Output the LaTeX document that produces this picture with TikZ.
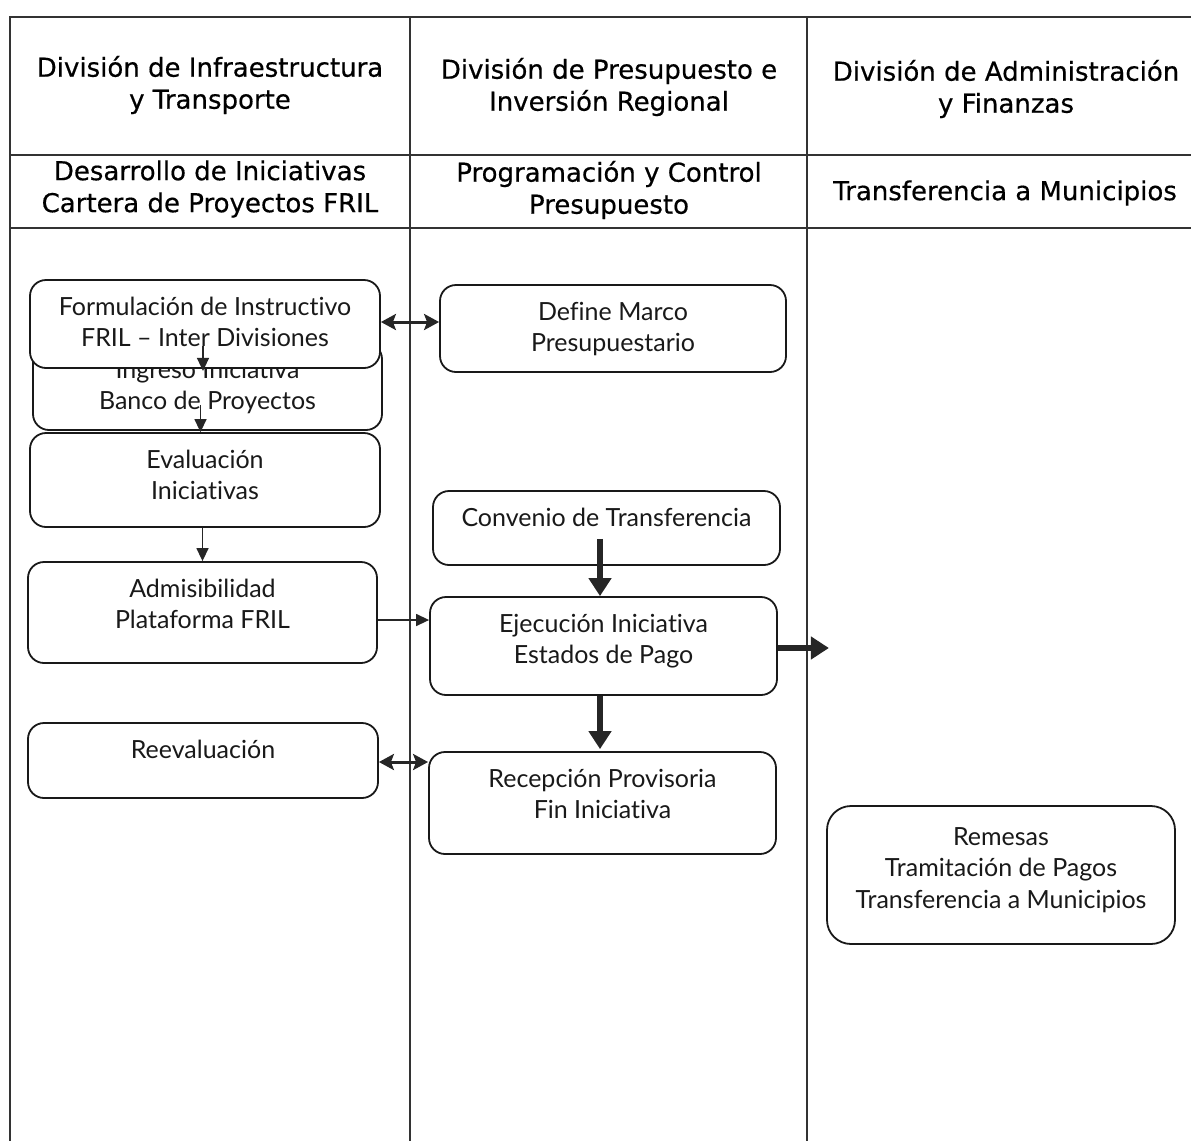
\documentclass[tikz,border=0pt]{standalone}
\usepackage{fontspec}
\setmainfont{Lato}[Ligatures=NoCommon]
\newfontfamily\hdrfont{DejaVu Sans}[FakeBold=0.5]
\usetikzlibrary{arrows.meta,calc}
\newcommand\firststrut{\rule{0pt}{22pt}}
\begin{document}
\begin{tikzpicture}[x=1pt,y=-1pt,
  grid/.style={draw=black!80, line width=1.3pt},
  hdr/.style={font=\hdrfont\fontsize{26}{32}\selectfont, align=center, inner sep=0pt, text=black},
  box/.style={draw=black!90, line width=1.8pt, rounded corners=16pt, fill=white, inner sep=0pt},
  btxt/.style={anchor=north, yshift=-14pt, inner sep=0pt, align=center, font=\fontsize{25}{31.5}\selectfont, text=black!90},
  thinarr/.style={draw=black!85, line width=1.4pt, -{Triangle[length=13pt,width=12pt]}},
  dblarr/.style={draw=black!85, line width=3pt, {Stealth[length=15pt,width=16pt,inset=3pt]}-{Stealth[length=15pt,width=16pt,inset=3pt]}},
  fatarr/.style={draw=black!85, line width=6pt, -{Triangle[length=18pt,width=22pt]}},
]
\useasboundingbox (0,0) rectangle (1191,1141);

% table grid
\draw[grid] (1191,17) -- (10,17) -- (10,1141);
\draw[grid] (10,155) -- (1191,155);
\draw[grid] (10,228) -- (1191,228);
\draw[grid] (410,17) -- (410,1141);
\draw[grid] (807,17) -- (807,1141);

% headers
\node[hdr] (h1) at (210,85) {División de Infraestructura\\y Transporte};
\node[hdr] (h2) at (609,87) {División de Presupuesto e\\Inversión Regional};
\node[hdr] (h3) at (1006,89) {División de Administración\\y Finanzas};
\node[hdr] (s1) at (210,189) {Desarrollo de Iniciativas\\Cartera de Proyectos FRIL};
\node[hdr] (s2) at (609,190) {Programación y Control\\Presupuesto};
\node[hdr] (s3) at (1005,193) {Transferencia a Municipios};

% boxes column 1
\node[box, minimum width=349pt, minimum height=87pt,
  label={[btxt]north:{\firststrut Ingreso Iniciativa\\Banco de Proyectos}}] (ingreso) at (207.5,386.5) {};
\node[box, minimum width=350pt, minimum height=88pt,
  label={[btxt]north:{\firststrut Formulación de Instructivo\\FRIL -- Inter Divisiones}}] (form) at (205,324) {};
\node[box, minimum width=350pt, minimum height=94pt,
  label={[btxt]north:{\firststrut Evaluación\\Iniciativas}}] (eval) at (205,480) {};
\node[box, minimum width=349pt, minimum height=101pt,
  label={[btxt]north:{\firststrut Admisibilidad\\Plataforma FRIL}}] (admis) at (202.5,612.5) {};
\node[box, minimum width=350pt, minimum height=75pt,
  label={[btxt]north:{\firststrut Reevaluación}}] (reev) at (203,760.5) {};

% boxes column 2
\node[box, minimum width=346pt, minimum height=87pt,
  label={[btxt]north:{\firststrut Define Marco\\Presupuestario}}] (define) at (613,328.5) {};
\node[box, minimum width=347pt, minimum height=74pt,
  label={[btxt]north:{\firststrut Convenio de Transferencia}}] (conv) at (606.5,528) {};
\node[box, minimum width=347pt, minimum height=98pt,
  label={[btxt]north:{\firststrut Ejecución Iniciativa\\Estados de Pago}}] (ejec) at (603.5,646) {};
\node[box, minimum width=347pt, minimum height=102pt,
  label={[btxt]north:{\firststrut Recepción Provisoria\\Fin Iniciativa}}] (recep) at (602.5,803) {};

% box column 3
\node[box, rounded corners=24pt, minimum width=348pt, minimum height=138pt,
  label={[btxt, yshift=-4pt]north:{\firststrut Remesas\\Tramitación de Pagos\\Transferencia a Municipios}}] (remesas) at (1001,875) {};

% connectors
\draw[thinarr] ([xshift=-2pt,yshift=23pt]form.south) -- ([xshift=-2pt,yshift=-2pt]form.south);
\draw[thinarr] ([xshift=-7pt,yshift=26pt]ingreso.south) -- ([xshift=-7pt]ingreso.south |- eval.north);
\draw[thinarr] (eval.south -| admis.north) -- (admis.north);
\draw[thinarr] ([yshift=-7.5pt]admis.east) -- ([yshift=-7.5pt]admis.east -| ejec.west);
\draw[dblarr] ([yshift=2pt]form.east) -- ([yshift=2pt]form.east -| define.west);
\draw[dblarr] ([yshift=-1.5pt]reev.east) -- ([yshift=-1.5pt]reev.east -| recep.west);
\draw[fatarr] ([xshift=-6.5pt,yshift=27pt]conv.south) -- ([xshift=-6.5pt]conv.south |- ejec.north);
\draw[fatarr] ([xshift=-3.5pt]ejec.south) -- ([xshift=-3.5pt,yshift=2pt]ejec.south |- recep.north);
\coordinate (out) at ($(ejec.east)+(51,2)$);
\draw[fatarr] ([yshift=-2pt]ejec.east) -- (out);
\end{tikzpicture}
\end{document}
